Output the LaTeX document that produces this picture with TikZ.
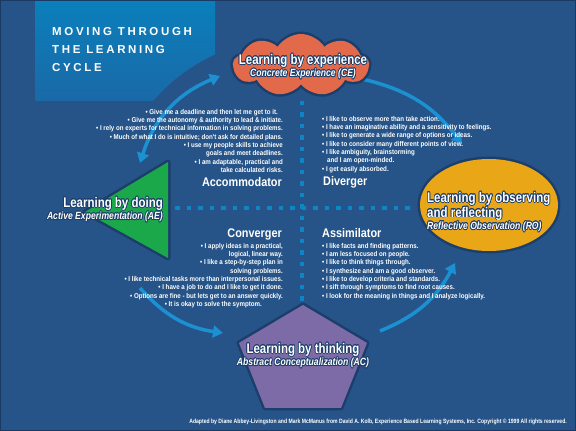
\documentclass[tikz,border=0pt]{standalone}
\usepackage{fontspec}
\setmainfont{Liberation Sans}
\newfontfamily\titlefont[LetterSpace=23]{Liberation Sans}
\newfontfamily\condfont[FakeStretch=0.82]{Liberation Sans}
\newfontfamily\headfont[FakeStretch=0.87]{Liberation Sans}
\newfontfamily\blurbfont[FakeStretch=0.88]{Liberation Sans}
\usepackage[copies]{contour}
\contourlength{0.7pt}
\usetikzlibrary{shapes.geometric,shapes.symbols,arrows.meta}

\definecolor{bgblue}{HTML}{265488}
\definecolor{framedark}{HTML}{1B3A63}
\definecolor{paneltop}{HTML}{0A7FBB}
\definecolor{panelbot}{HTML}{1A69A7}
\definecolor{halo}{HTML}{1C3E6B}
\definecolor{ceorange}{HTML}{E2694A}
\definecolor{aegreen}{HTML}{1AA84B}
\definecolor{royellow}{HTML}{E9A718}
\definecolor{acpurple}{HTML}{7D6BA7}
\definecolor{dotblue}{HTML}{0E86C6}
\definecolor{arrowblue}{HTML}{1B91D2}

\newcommand{\lbl}[1]{\contour{halo}{#1}}

\tikzset{
  shapehalo/.style={preaction={draw=halo,line width=5pt,line join=round}},
  biglabel/.style={text=white,inner sep=0pt,font=\condfont\bfseries\fontsize{14}{11}\selectfont},
  blurb/.style={text=white,inner sep=0pt,font=\blurbfont\bfseries\fontsize{7}{8.3}\selectfont},
  quadhead/.style={text=white,inner sep=0pt,font=\headfont\bfseries\fontsize{12.5}{13}\selectfont},
  cyclearrow/.style={draw=arrowblue,line width=3.5pt,-{Triangle[width=12pt,length=10pt]}},
  dotline/.style={draw=dotblue,line width=4.5pt,dash pattern=on 4.5pt off 7pt}
}
\newcommand{\subl}[1]{{\fontsize{10.5}{11}\selectfont\itshape\lbl{#1}}}

\begin{document}
\begin{tikzpicture}[x=1pt,y=1pt]
\useasboundingbox (0,0) rectangle (576,431);
% background and title panel
\fill[bgblue] (0,0) rectangle (576,431);
\shade[top color=paneltop,bottom color=panelbot] (35,330) rectangle (215,429);
\fill[bgblue] (288,215) circle (177);
\draw[framedark,line width=2pt] (0,0) rectangle (576,431);
\node[anchor=north west,align=left,inner sep=0pt,text=white,
  font=\titlefont\bfseries\fontsize{11.5}{18}\selectfont] (title) at (52,404)
  {MOVING THROUGH\\THE LEARNING\\CYCLE};

% dotted cross
\draw[dotline] (302,330) -- (302,128);
\draw[dotline] (175,223) -- (414,223);

% cycle arrows
\coordinate (tl-s) at (140,268);
\coordinate (tl-e) at (220,355);
\coordinate (tr-s) at (362,352);
\coordinate (tr-e) at (462,287);
\coordinate (br-s) at (380,100);
\coordinate (br-e) at (455,168);
\coordinate (bl-s) at (140,143);
\coordinate (bl-e) at (223,98);
\draw[cyclearrow,{Triangle[width=12pt,length=10pt]}-{Triangle[width=12pt,length=10pt]}] (tl-s) to[bend left=25] (tl-e);
\draw[cyclearrow] (tr-s) to[bend left=20] (tr-e);
\draw[cyclearrow] (br-s) to[bend right=20] (br-e);
\draw[cyclearrow] (bl-s) to[bend right=20] (bl-e);

% the four modes
\node[cloud,cloud puffs=9,cloud puff arc=115,aspect=2.2,minimum width=136,
  minimum height=62,fill=ceorange,shapehalo] (ce) at (301,366) {};
\node[ellipse,minimum width=138,minimum height=92,fill=royellow,shapehalo] (ro) at (489,226) {};
\fill[aegreen,shapehalo] (85,219) -- (168,269) -- (168,173) -- cycle;
\fill[acpurple,shapehalo] (303,126) -- (367,88) -- (341,23) -- (265,23) -- (239,88) -- cycle;

\node[biglabel,align=center,anchor=north] (ce-text) at (303,377)
  {\lbl{Learning by experience}\\\subl{Concrete Experience (CE)}};
\node[biglabel,align=left,anchor=north west] (ro-text) at (427,239)
  {\lbl{Learning by observing}\\\lbl{and reflecting}\\\subl{Reflective Observation (RO)}};
\node[biglabel,align=right,anchor=north east] (ae-text) at (163,234)
  {\lbl{Learning by doing}\\\subl{Active Experimentation (AE)}};
\node[biglabel,align=center,anchor=north] (ac-text) at (303,88)
  {\lbl{Learning by thinking}\\\subl{Abstract Conceptualization (AC)}};

% quadrant styles
\node[quadhead,anchor=base east] (acc-head) at (282,244) {Accommodator};
\node[quadhead,anchor=base west] (div-head) at (323,245) {Diverger};
\node[quadhead,anchor=base east] (conv-head) at (282,193) {Converger};
\node[quadhead,anchor=base west] (assim-head) at (322,193) {Assimilator};

\node[blurb,align=right,anchor=north east] (acc) at (283,322)
  {\textbullet{} Give me a deadline and then let me get to it.\hspace*{5pt}\\
   \textbullet{} Give me the autonomy \& authority to lead \& initiate.\\
   \textbullet{} I rely on experts for technical information in solving problems.\\
   \textbullet{} Much of what I do is intuitive; don't ask for detailed plans.\\
   \textbullet{} I use my people skills to achieve\\
   goals and meet deadlines.\\
   \textbullet{} I am adaptable, practical and\\
   take calculated risks.};
\node[blurb,align=left,anchor=north west] (div) at (322,315)
  {\textbullet{} I like to observe more than take action.\\
   \textbullet{} I have an imaginative ability and a sensitivity to feelings.\\
   \textbullet{} I like to generate a wide range of options or ideas.\\
   \textbullet{} I like to consider many different points of view.\\
   \textbullet{} I like ambiguity, brainstorming\\
   \hspace*{5pt}and I am open-minded.\\
   \textbullet{} I get easily absorbed.};
\node[blurb,align=right,anchor=north east] (conv) at (283,188)
  {\textbullet{} I apply ideas in a practical,\\
   logical, linear way.\\
   \textbullet{} I like a step-by-step plan in\\
   solving problems.\\
   \textbullet{} I like technical tasks more than interpersonal issues.\\
   \textbullet{} I have a job to do and I like to get it done.\hspace*{3pt}\\
   \textbullet{} Options are fine - but lets get to an answer quickly.\hspace*{13pt}\\
   \textbullet{} It is okay to solve the symptom.\hspace*{21pt}};
\node[blurb,align=left,anchor=north west] (assim) at (322,188)
  {\textbullet{} I like facts and finding patterns.\\
   \textbullet{} I am less focused on people.\\
   \textbullet{} I like to think things through.\\
   \textbullet{} I synthesize and am a good observer.\\
   \textbullet{} I like to develop criteria and standards.\\
   \textbullet{} I sift through symptoms to find root causes.\\
   \textbullet{} I look for the meaning in things and I analyze logically.};

\node[anchor=base east,inner sep=0pt,text=white,font=\condfont\bfseries\fontsize{6.2}{7}\selectfont] (credit) at (567,7)
  {Adapted by Diane Abbey-Livingston and Mark McManus from David A. Kolb, Experience Based Learning Systems, Inc. Copyright \textcopyright{} 1999 All rights reserved.};
\end{tikzpicture}
\end{document}
